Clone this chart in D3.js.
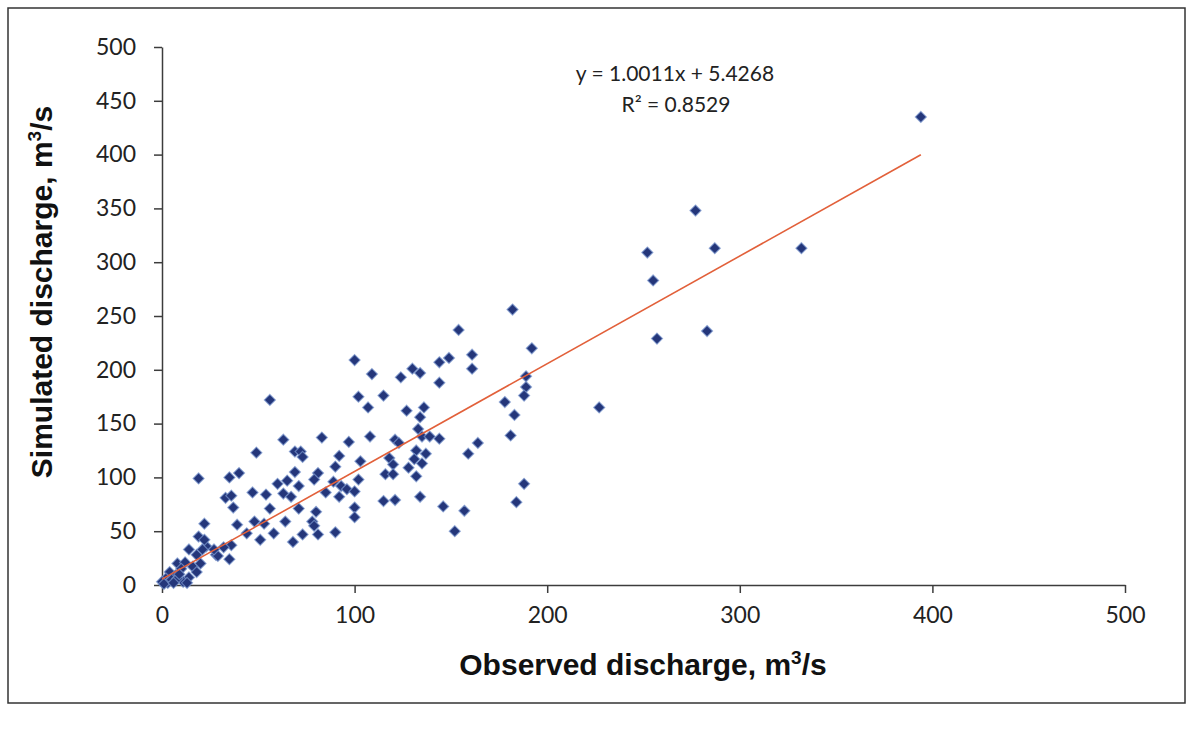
<!DOCTYPE html>
<html lang="en">

<head>
    <meta charset="UTF-8">
    <title>Observed vs simulated discharge</title>
    <style>
        body { margin: 0; background: #fff; }
    </style>
</head>

<body>
    <svg width="1191" height="729"></svg>
    <script src="https://d3js.org/d3.v7.min.js"></script>
    <script>
        // observed (x) and simulated (y) discharge, m3/s
        var observed = [394, 277, 252, 287, 332, 255, 257, 283, 227,
            182, 154, 192, 149, 144, 161, 161, 130, 134, 124, 144, 115, 189, 189, 188, 178, 183,
            127, 136, 134, 181, 133, 135, 139, 144, 121, 123, 164, 159, 118, 132, 137, 131, 120,
            135, 128, 116, 120, 132, 115, 121, 134, 188, 184, 146, 157, 152,
            56, 102, 107, 63, 83, 97, 108, 49, 69, 72, 73, 92, 103, 90, 19, 35, 40, 69, 81, 79,
            65, 60, 71, 89, 102, 93, 96, 100, 47, 54, 63, 67, 85, 92, 33, 36, 37, 56, 71, 80,
            100, 100, 22, 39, 48, 53, 58, 64, 78, 79, 81, 73, 68, 51, 44, 90, 35, 36, 32, 28,
            23, 19, 22, 14, 100, 109,
            18, 21, 29, 27, 8, 12, 16, 10, 18, 4, 7, 14, 2, 0, 3, 11, 13, 5, 8, 20, 1, 6, 9]
        var simulated = [435, 348, 309, 313, 313, 283, 229, 236, 165,
            256, 237, 220, 211, 207, 214, 201, 201, 197, 193, 188, 176, 194, 184, 176, 170, 158,
            162, 165, 156, 139, 145, 138, 138, 136, 135, 132, 132, 122, 118, 125, 122, 117, 112,
            113, 109, 103, 103, 101, 78, 79, 82, 94, 77, 73, 69, 50,
            172, 175, 165, 135, 137, 133, 138, 123, 124, 124, 119, 120, 115, 110, 99, 100, 104, 105, 104, 98,
            97, 94, 92, 96, 98, 92, 89, 87, 86, 84, 85, 82, 86, 82, 81, 83, 72, 71, 71, 68,
            72, 63, 57, 56, 59, 57, 48, 59, 59, 55, 47, 47, 40, 42, 48, 49, 24, 37, 35, 28,
            36, 45, 42, 33, 209, 196,
            28, 33, 27, 33, 20, 21, 17, 15, 12, 12, 9, 7, 6, 3, 2, 3, 2, 5, 6, 20, 1, 2, 10]

        var xTicks = [0, 100, 200, 300, 400, 500]
        var yTicks = [0, 50, 100, 150, 200, 250, 300, 350, 400, 450, 500]

        // fitted trend line
        var slope = 1.0011
        var intercept = 5.4268
        var rSquared = 0.8529

        var svg = d3.select('svg')

        // outer frame
        svg.append("rect").attr("x", 8).attr("y", 8).attr("width", 1177).attr("height", 695)
            .style("fill", "none").style("stroke", "#333").style("stroke-width", 1.5)

        var x = d3.scaleLinear().domain([0, 500]).range([162, 1125])
        var y = d3.scaleLinear().domain([0, 500]).range([585, 47])

        var tickFont = "Lato, 'Open Sans', sans-serif"

        // x axis
        var xAxis = svg.append("g").attr("transform", "translate(0,585)")
            .call(d3.axisBottom(x).tickValues(xTicks).tickSize(8).tickPadding(14).tickSizeOuter(0))
        // y axis
        var yAxis = svg.append("g").attr("transform", "translate(162,0)")
            .call(d3.axisLeft(y).tickValues(yTicks).tickSize(8).tickPadding(18).tickSizeOuter(0))

        svg.selectAll(".domain, .tick line").style("stroke", "#3c3c3c").style("stroke-width", 1.5)
        svg.selectAll(".tick text").style("font-family", tickFont).style("font-size", "23px")
            .style("fill", "#222")

        // points
        var pts = observed.map(function (d, i) { return { x: d, y: simulated[i] } })
        var diamond = d3.symbol().type(d3.symbolDiamond2).size(78)
        svg.append("g").selectAll("path").data(pts).enter().append("path")
            .attr("d", diamond)
            .attr("transform", function (d) { return "translate(" + x(d.x) + "," + y(d.y) + ")" })
            .style("fill", "#24367a").style("stroke", "#7b97cf").style("stroke-width", 1.2)
            .style("stroke-opacity", 0.7)

        // trend line from min to max observed
        var x0 = d3.min(observed), x1 = d3.max(observed)
        svg.append("line")
            .attr("x1", x(x0)).attr("y1", y(slope * x0 + intercept))
            .attr("x2", x(x1)).attr("y2", y(slope * x1 + intercept))
            .style("stroke", "#e2603a").style("stroke-width", 1.6)

        // equation text
        svg.append("text").attr("x", 675).attr("y", 81).attr("text-anchor", "middle")
            .style("font-family", tickFont).style("font-size", "21px").style("fill", "#222")
            .text("y = " + slope.toFixed(4) + "x + " + intercept.toFixed(4))
        svg.append("text").attr("x", 676).attr("y", 112).attr("text-anchor", "middle")
            .style("font-family", tickFont).style("font-size", "21px").style("fill", "#222")
            .text("R² = " + rSquared.toFixed(4))

        // axis titles
        function unitTitle(sel, label) {
            sel.append("tspan").text(label + ", m")
            sel.append("tspan").attr("dy", -11).style("font-size", "19px").text("3")
            sel.append("tspan").attr("dy", 11).text("/s")
        }
        var xt = svg.append("text").attr("x", 643).attr("y", 675).attr("text-anchor", "middle")
            .style("font-family", "'Liberation Sans', Arial, sans-serif").style("font-weight", "bold")
            .style("font-size", "30px").style("fill", "#111")
        unitTitle(xt, "Observed discharge")

        var yt = svg.append("text").attr("transform", "translate(52,292) rotate(-90)")
            .attr("text-anchor", "middle")
            .style("font-family", "'Liberation Sans', Arial, sans-serif").style("font-weight", "bold")
            .style("font-size", "30px").style("fill", "#111")
        unitTitle(yt, "Simulated discharge")
    </script>
</body>

</html>
